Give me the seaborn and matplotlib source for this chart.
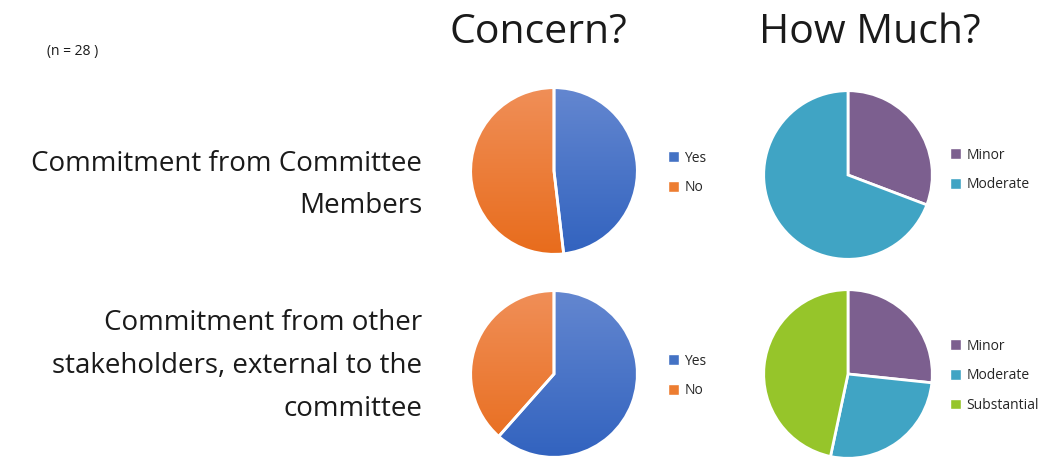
import numpy as np
import seaborn as sns
import matplotlib.pyplot as plt
from matplotlib.patches import Patch
from matplotlib.colors import LinearSegmentedColormap

sns.set_theme(style="white")
plt.rcParams['font.family'] = ['Open Sans', 'DejaVu Sans']

# data (counts)
row_labels = ["Commitment from Committee\nMembers",
              "Commitment from other\nstakeholders, external to the\ncommittee"]
concern_labels = ["Yes", "No"]
concern_top = [13, 14]
concern_bottom = [16, 10]
howmuch_top_labels = ["Minor", "Moderate"]
howmuch_top = [4, 9]
howmuch_bottom_labels = ["Minor", "Moderate", "Substantial"]
howmuch_bottom = [4, 4, 7]

colors = {
    "Yes": "#4472c4",
    "No": "#ed7d31",
    "Minor": "#7c5f8f",
    "Moderate": "#40a4c4",
    "Substantial": "#96c52a",
}
# top / bottom shades for the gradient filled slices
gradients = {
    "Yes": ("#6487d0", "#3263bf"),
    "No": ("#f08f58", "#e86c1c"),
}

W, H = 1041, 457
fig = plt.figure(figsize=(W / 100, H / 100), dpi=100)


def px_axes(cx, cy, r):
    return fig.add_axes([(cx - r) / W, 1 - (cy + r) / H, 2 * r / W, 2 * r / H])


def draw_pie(cx, cy, r, values, labels, leg_x, leg_y):
    ax = px_axes(cx, cy, r)
    wedges, _ = ax.pie(values, colors=[colors[l] for l in labels], startangle=90,
                       counterclock=False, radius=1.0,
                       wedgeprops=dict(edgecolor="white", linewidth=2))
    grad = np.linspace(0, 1, 256).reshape(-1, 1)
    for w, l in zip(wedges, labels):
        if l in gradients:
            cmap = LinearSegmentedColormap.from_list(l, list(gradients[l]))
            im = ax.imshow(grad, cmap=cmap, extent=[-1, 1, -1, 1], origin="upper",
                           aspect="auto", zorder=w.get_zorder() + 0.5)
            im.set_clip_path(w)
    if any(l in gradients for l in labels):
        ax.pie(values, colors=["none"] * len(values), startangle=90,
               counterclock=False, radius=1.0,
               wedgeprops=dict(edgecolor="white", linewidth=2, zorder=5))
    ax.set_xlim(-1.02, 1.02)
    ax.set_ylim(-1.02, 1.02)
    ax.set_aspect("equal")
    handles = [Patch(facecolor=colors[l], label=l) for l in labels]
    fig.legend(handles=handles, loc="upper left",
               bbox_to_anchor=(leg_x / W, 1 - leg_y / H), frameon=False,
               fontsize=10, labelspacing=1.05, handlelength=0.8,
               handleheight=0.8, handletextpad=0.4, borderaxespad=0)
    return ax


draw_pie(554, 171, 85, concern_top, concern_labels, 662, 145)
draw_pie(848, 175, 86, howmuch_top, howmuch_top_labels, 944, 142)
draw_pie(554, 374, 85, concern_bottom, concern_labels, 662, 348)
draw_pie(848, 374, 86, howmuch_bottom, howmuch_bottom_labels, 944, 333)

fig.text(538 / W, 1 - 33 / H, "Concern?", fontsize=29.5, ha="center", va="center", color="#1a1a1a")
fig.text(870 / W, 1 - 33 / H, "How Much?", fontsize=29.5, ha="center", va="center", color="#1a1a1a")
fig.text(47 / W, 1 - 52 / H, "(n = 28 )", fontsize=10, ha="left", va="center", color="#1a1a1a")

fig.text(422 / W, 1 - 185 / H, row_labels[0], fontsize=20, ha="right", va="center",
         linespacing=1.7, color="#1a1a1a")
fig.text(422 / W, 1 - 366 / H, row_labels[1], fontsize=20, ha="right", va="center",
         linespacing=1.7, color="#1a1a1a")

fig.savefig("out.png", dpi=100)
